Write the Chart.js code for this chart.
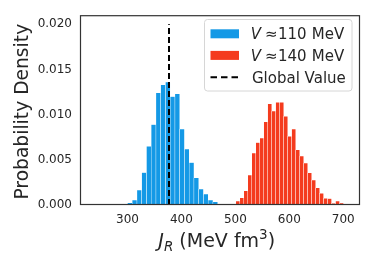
<!DOCTYPE html>
<html>
<head>
<meta charset="utf-8">
<script src="https://cdn.jsdelivr.net/npm/chart.js@4"></script>
<style>
  body { margin: 0; background: #fff; }
  #wrap { width: 374px; height: 267px; }
</style>
</head>
<body>
<div id="wrap"><canvas id="c" width="374" height="267"></canvas></div>
<script>
// Histogram bin centres (MeV fm^3) and densities.
const binsLow = [304.4, 313.2, 322.0, 330.8, 339.6, 348.4, 357.2, 366.0, 374.8, 383.6,
                 392.4, 401.2, 410.0, 418.8, 427.6, 436.4, 445.2, 454.0, 462.8, 471.6];
const densLow = [0.00025, 0.00055, 0.00165, 0.0036, 0.0065, 0.0089, 0.0124, 0.0133, 0.0136, 0.0120,
                 0.0123, 0.0084, 0.0062, 0.0047, 0.0030, 0.00176, 0.0012, 0.00055, 0.00036, 0.0001];
const binsHigh = [504.6, 512.0, 519.4, 526.8, 534.2, 541.6, 549.0, 556.4, 563.7, 571.1,
                  578.5, 585.9, 593.3, 600.7, 608.1, 615.5, 622.9, 630.3, 637.7, 645.1,
                  652.5, 659.8, 667.2, 674.6, 682.0, 689.4, 696.8];
const densHigh = [0.00044, 0.0008, 0.00157, 0.0033, 0.00575, 0.0069, 0.0074, 0.0092, 0.0112, 0.0104,
                  0.01135, 0.01135, 0.0098, 0.0076, 0.0084, 0.0061, 0.0054, 0.00465, 0.00355, 0.00275,
                  0.0019, 0.00129, 0.00074, 0.0007, 0.00019, 0.00044, 0.00022];
const globalValue = 377;
const globalTop = 0.020;
const xTicks = [300, 400, 500, 600, 700];
const yTicks = [0, 0.005, 0.010, 0.015, 0.020];
const xRange = [212, 731];
const yRange = [0, 0.021];

const BLUE = '#1499e6';
const RED = '#f43b1e';
const INK = '#262626';
const FONT = '"DejaVu Sans", sans-serif';

const pts = (xs, ys) => xs.map((x, i) => ({ x: x, y: ys[i] }));

// draw text so that its ink starts (or ends) at x
function inkText(ctx, t, x, y) {
    const m = ctx.measureText(t);
    ctx.fillText(t, x + m.actualBoundingBoxLeft, y);
}
function inkTextRight(ctx, t, x, y) {
    const m = ctx.measureText(t);
    ctx.fillText(t, x - m.actualBoundingBoxRight, y);
}

// frame, axis titles and the legend are drawn by hand (mathtext-like labels)
const decor = {
    id: 'decor',
    afterDatasetsDraw(chart) {
        const ctx = chart.ctx, a = chart.chartArea;
        ctx.save();
        ctx.strokeStyle = '#333';
        ctx.lineWidth = 1.2;
        ctx.strokeRect(a.left + 0.5, a.top + 0.5, a.right - a.left - 1, a.bottom - a.top - 1);

        // y title
        ctx.fillStyle = INK;
        ctx.font = '18.7px ' + FONT;
        ctx.textAlign = 'center';
        ctx.textBaseline = 'alphabetic';
        ctx.translate(28, 111.7);
        ctx.rotate(-Math.PI / 2);
        ctx.fillText('Probability Density', 0, 0);
        ctx.restore();

        // x title: J_R (MeV fm^3)
        ctx.save();
        ctx.fillStyle = INK;
        ctx.textBaseline = 'alphabetic';
        ctx.textAlign = 'left';
        const parts = [
            { t: 'J', f: 'italic 19px ' + FONT, dy: 0 },
            { t: 'R', f: 'italic 13.5px ' + FONT, dy: 4 },
            { t: ' (MeV fm', f: '19px ' + FONT, dy: 0 },
            { t: '3', f: '13.5px ' + FONT, dy: -7.5 },
            { t: ')', f: '19px ' + FONT, dy: 0 }
        ];
        let w = 0;
        parts.forEach(p => { ctx.font = p.f; p.w = ctx.measureText(p.t).width; w += p.w; });
        let x = 216.7 - w / 2;
        parts.forEach(p => { ctx.font = p.f; ctx.fillText(p.t, x, 246.7 + p.dy); x += p.w; });
        ctx.restore();

        // legend
        ctx.save();
        ctx.fillStyle = 'rgba(255,255,255,0.85)';
        ctx.strokeStyle = '#d6d6d6';
        ctx.lineWidth = 1;
        ctx.beginPath();
        ctx.roundRect(204.5, 19.5, 147.5, 71.5, 3);
        ctx.fill();
        ctx.stroke();
        ctx.textAlign = 'left';
        const ds = chart.data.datasets;
        const rows = [33.8, 55.4, 77.3];
        [0, 1].forEach(i => {
            const val = ds[i].label.split('\u2248 ')[1].split(' ');
            ctx.fillStyle = ds[i].backgroundColor;
            ctx.fillRect(210.5, rows[i] - 4.5, 28.5, 9);
            ctx.fillStyle = INK;
            ctx.font = 'italic 15px ' + FONT;
            inkText(ctx, 'V', 251.7, rows[i] + 5.4);
            ctx.font = '15px ' + FONT;
            inkText(ctx, '\u2248', 266, rows[i] + 5.4);
            inkText(ctx, val[0], 279, rows[i] + 5.4);
            inkTextRight(ctx, val[1], 345, rows[i] + 5.4);
        });
        ctx.strokeStyle = '#000';
        ctx.lineWidth = 2;
        ctx.setLineDash([6.5, 4]);
        ctx.beginPath();
        ctx.moveTo(210.5, rows[2]);
        ctx.lineTo(239, rows[2]);
        ctx.stroke();
        ctx.setLineDash([]);
        ctx.fillStyle = INK;
        ctx.font = '15px ' + FONT;
        inkText(ctx, ds[2].label, 252, rows[2] + 5.4);
        ctx.restore();
    }
};

new Chart(document.getElementById('c'), {
    type: 'bar',
    data: {
        datasets: [
            { label: 'V \u2248 110 MeV', data: pts(binsLow, densLow), xAxisID: 'x',
              backgroundColor: BLUE, borderColor: '#fff', borderWidth: 0.5, order: 2,
              grouped: false, barThickness: 4.75 },
            { label: 'V \u2248 140 MeV', data: pts(binsHigh, densHigh), xAxisID: 'x',
              backgroundColor: RED, borderColor: '#fff', borderWidth: 0.5, order: 2,
              grouped: false, barThickness: 3.99 },
            { type: 'line', label: 'Global Value', xAxisID: 'x',
              data: [{ x: globalValue, y: 0 }, { x: globalValue, y: globalTop }],
              borderColor: '#000', borderWidth: 2, borderDash: [6, 3],
              pointRadius: 0, fill: false, order: 0 }
        ]
    },
    options: {
        responsive: false,
        animation: false,
        layout: { padding: { top: 14, right: 14, left: 0, bottom: 0 } },
        plugins: { legend: { display: false }, tooltip: { enabled: false } },
        scales: {
            x: {
                type: 'linear', position: 'bottom', min: xRange[0], max: xRange[1], offset: false,
                grid: { display: false, drawTicks: false }, border: { display: false },
                afterBuildTicks: s => { s.ticks = xTicks.map(v => ({ value: v })); },
                afterFit: s => { s.height = 62; },
                ticks: { color: INK, font: { family: FONT, size: 12 }, padding: 8, maxRotation: 0,
                         callback: v => String(v) }
            },
            y: {
                min: yRange[0], max: yRange[1],
                grid: { display: false, drawTicks: false }, border: { display: false },
                afterBuildTicks: s => { s.ticks = yTicks.map(v => ({ value: v })); },
                afterFit: s => { s.width = 80; },
                ticks: { color: INK, font: { family: FONT, size: 12 }, padding: 8,
                         callback: v => v.toFixed(3) }
            }
        }
    },
    plugins: [decor]
});
</script>
</body>
</html>
